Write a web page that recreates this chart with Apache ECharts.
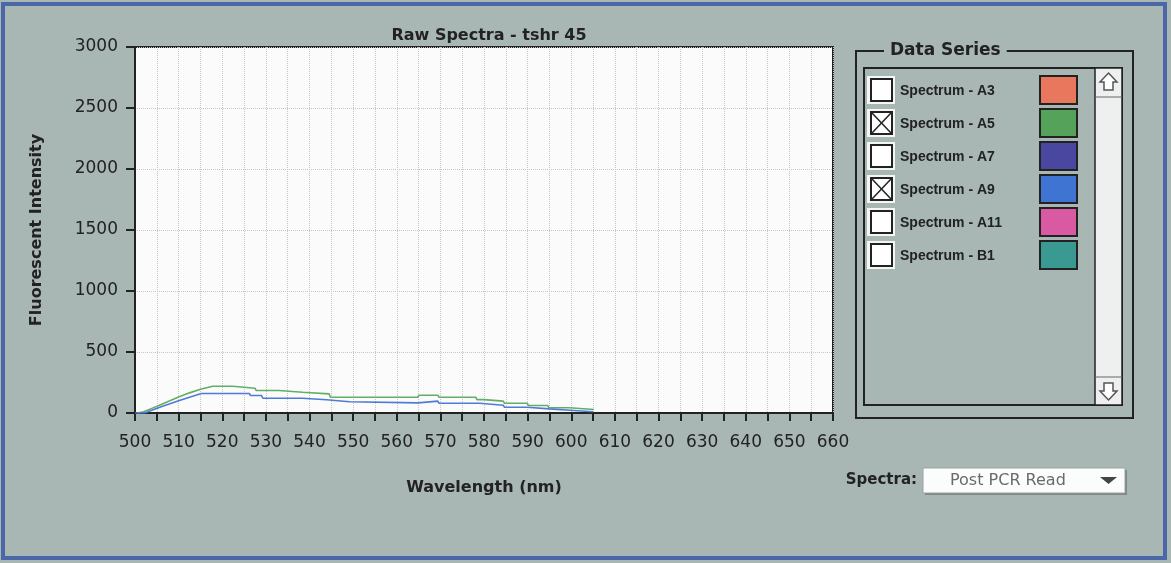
<!DOCTYPE html>
<html>
<head>
<meta charset="utf-8">
<script src="https://cdn.jsdelivr.net/npm/echarts@6/dist/echarts.min.js"></script>
<style>
  html, body { margin: 0; padding: 0; background: #a8b7b4; }
  #chart { width: 1171px; height: 563px; }
</style>
</head>
<body>
<div id="chart"></div>
<script>
// spectrum A5 (green) - wavelength / intensity breakpoints
const greenNm = [500.5, 502, 504, 506, 508, 510, 512.5, 515, 517.8, 522.4, 522.7, 527.5, 527.8, 533.0, 533.3, 538.4, 538.7, 544.5, 544.8, 564.8, 565.1, 569.4, 569.7, 578.1, 578.4, 580.0, 580.3, 584.4, 584.7, 589.9, 590.2, 594.6, 594.9, 599.6, 599.9, 605.2];
const greenVal = [0, 10, 40, 70, 100, 132, 165, 195, 219, 219, 203, 203, 184, 184, 170, 170, 157, 157, 129, 129, 146, 146, 129, 129, 110, 110, 97, 97, 80, 80, 61, 61, 43, 43, 29, 29];

// spectrum A9 (blue)
const blueNm = [500, 502.2, 504, 506, 508, 510, 512.5, 515.2, 526.2, 526.5, 529, 529.3, 538.4, 538.7, 543.9, 544.2, 549.2, 549.5, 564.9, 565.2, 569.4, 569.7, 579, 579.3, 584.4, 584.7, 589.9, 590.2, 594.9, 595.2, 599.7, 600, 605];
const blueVal = [0, 0, 25, 52, 75, 100, 130, 160, 160, 143, 143, 121, 121, 108, 108, 92, 92, 83, 83, 97, 97, 80, 80, 64, 64, 47, 47, 34, 34, 23, 23, 10, 10];

// legend list on the right
const seriesNames = ["Spectrum - A3", "Spectrum - A5", "Spectrum - A7", "Spectrum - A9", "Spectrum - A11", "Spectrum - B1"];
const seriesColors = ["#e8775e", "#55a25a", "#4a47a0", "#3f74d3", "#d95aa2", "#3a9a92"];
const seriesChecked = [false, true, false, true, false, false];

const bg = "#a8b7b4";
const ink = "#222";

let myChart = echarts.init(document.getElementById("chart"));

let graphics = [];
// outer window border
graphics.push({
  type: "rect",
  shape: { x: 3, y: 4, width: 1162, height: 554 },
  style: { fill: null, stroke: "#4b67a8", lineWidth: 4 },
});
// "Data Series" group box
graphics.push({
  type: "rect",
  shape: { x: 856, y: 51, width: 277, height: 367 },
  style: { fill: null, stroke: ink, lineWidth: 2 },
});
graphics.push({
  type: "text",
  x: 884,
  y: 51,
  style: {
    text: "Data Series",
    fill: ink,
    font: "bold 17px 'DejaVu Sans'",
    verticalAlign: "middle",
    backgroundColor: bg,
    padding: [0, 6],
  },
  z: 10,
});
// list box
graphics.push({
  type: "rect",
  shape: { x: 864, y: 68, width: 258, height: 337 },
  style: { fill: null, stroke: ink, lineWidth: 2 },
});
// scrollbar
graphics.push({
  type: "rect",
  shape: { x: 1095, y: 68, width: 27, height: 337 },
  style: { fill: "#eef0ef", stroke: ink, lineWidth: 1.5 },
});
graphics.push({
  type: "line",
  shape: { x1: 1095, y1: 97, x2: 1122, y2: 97 },
  style: { stroke: "#666", lineWidth: 1 },
});
graphics.push({
  type: "line",
  shape: { x1: 1095, y1: 377, x2: 1122, y2: 377 },
  style: { stroke: "#666", lineWidth: 1 },
});
graphics.push({
  type: "polygon",
  shape: {
    points: [[1108.5, 73], [1117, 82], [1113, 82], [1113, 90], [1104, 90], [1104, 82], [1100, 82]],
  },
  style: { fill: "#fff", stroke: "#555", lineWidth: 1.5 },
});
graphics.push({
  type: "polygon",
  shape: {
    points: [[1108.5, 400], [1117, 391], [1113, 391], [1113, 383], [1104, 383], [1104, 391], [1100, 391]],
  },
  style: { fill: "#fff", stroke: "#555", lineWidth: 1.5 },
});

for (let i = 0; i < seriesNames.length; i++) {
  let cy = 90 + 33 * i;
  graphics.push({
    type: "rect",
    shape: { x: 867, y: cy - 14, width: 28, height: 28 },
    style: { fill: "#f4f6f5" },
  });
  graphics.push({
    type: "rect",
    shape: { x: 871, y: cy - 11, width: 21, height: 22 },
    style: { fill: "#fff", stroke: ink, lineWidth: 2 },
  });
  if (seriesChecked[i]) {
    graphics.push({
      type: "polyline",
      shape: { points: [[872, cy - 10], [891, cy + 10]] },
      style: { stroke: ink, lineWidth: 1.5 },
    });
    graphics.push({
      type: "polyline",
      shape: { points: [[891, cy - 10], [872, cy + 10]] },
      style: { stroke: ink, lineWidth: 1.5 },
    });
  }
  graphics.push({
    type: "text",
    x: 900,
    y: cy + 1,
    style: {
      text: seriesNames[i],
      fill: ink,
      font: "bold 14px 'Liberation Sans'",
      verticalAlign: "middle",
    },
  });
  graphics.push({
    type: "rect",
    shape: { x: 1040, y: cy - 14, width: 37, height: 28 },
    style: { fill: seriesColors[i], stroke: ink, lineWidth: 2 },
  });
}

// Spectra dropdown
graphics.push({
  type: "text",
  x: 917,
  y: 480,
  style: {
    text: "Spectra:",
    fill: ink,
    font: "bold 15px 'DejaVu Sans'",
    align: "right",
    verticalAlign: "middle",
  },
});
graphics.push({
  type: "rect",
  shape: { x: 925, y: 470, width: 202, height: 25 },
  style: { fill: "#7d8886" },
});
graphics.push({
  type: "rect",
  shape: { x: 923, y: 468, width: 202, height: 25 },
  style: { fill: "#fbfcfc", stroke: "#9aa3a1", lineWidth: 1 },
});
graphics.push({
  type: "text",
  x: 950,
  y: 481,
  style: {
    text: "Post PCR Read",
    fill: "#6a6a6a",
    font: "16px 'DejaVu Sans'",
    verticalAlign: "middle",
  },
});
graphics.push({
  type: "polygon",
  shape: { points: [[1100, 477], [1117, 477], [1108.5, 484]] },
  style: { fill: "#444" },
});

let option = {
  backgroundColor: bg,
  animation: false,
  title: {
    text: "Raw Spectra - tshr 45",
    left: 484,
    top: 23,
    textAlign: "center",
    textStyle: { fontFamily: "DejaVu Sans", fontWeight: "bold", fontSize: 16, color: ink },
  },
  grid: {
    left: 135,
    top: 47,
    width: 698,
    height: 366,
    show: true,
    backgroundColor: "#fbfbfb",
    borderColor: ink,
    borderWidth: 2,
  },
  xAxis: {
    type: "value",
    min: 500,
    max: 660,
    interval: 10,
    name: "Wavelength (nm)",
    nameLocation: "middle",
    nameGap: 67,
    nameTextStyle: { fontFamily: "DejaVu Sans", fontWeight: "bold", fontSize: 16, color: ink },
    axisLine: { lineStyle: { color: ink, width: 2 } },
    axisTick: { length: 8, lineStyle: { color: ink, width: 2 } },
    minorTick: { show: true, splitNumber: 2, length: 8, lineStyle: { color: ink, width: 2 } },
    axisLabel: { margin: 21, fontFamily: "DejaVu Sans", fontSize: 17, color: ink },
    splitLine: { show: true, lineStyle: { color: "#c6c6c6", type: "dotted", width: 1 } },
    minorSplitLine: { show: true, lineStyle: { color: "#c6c6c6", type: "dotted", width: 1 } },
  },
  yAxis: {
    type: "value",
    min: 0,
    max: 3000,
    interval: 500,
    name: "Fluorescent Intensity",
    nameLocation: "middle",
    nameGap: 90,
    nameTextStyle: { fontFamily: "DejaVu Sans", fontWeight: "bold", fontSize: 16, color: ink },
    axisLine: { show: true, lineStyle: { color: ink, width: 2 } },
    axisTick: { show: true, length: 9, lineStyle: { color: ink, width: 2 } },
    axisLabel: {
      margin: 17,
      fontFamily: "DejaVu Sans",
      fontSize: 17,
      color: ink,
      formatter: (v) => String(v),
    },
    splitLine: { show: true, lineStyle: { color: "#c6c6c6", type: "dotted", width: 1 } },
  },
  series: [
    {
      name: "Spectrum - A5",
      type: "line",
      showSymbol: false,
      lineStyle: { color: "#63ad66", width: 1.6 },
      data: greenNm.map((x, i) => [x, greenVal[i]]),
    },
    {
      name: "Spectrum - A9",
      type: "line",
      showSymbol: false,
      lineStyle: { color: "#4f7bd6", width: 1.6 },
      data: blueNm.map((x, i) => [x, blueVal[i]]),
    },
  ],
  graphic: graphics,
};

myChart.setOption(option);
</script>
</body>
</html>
